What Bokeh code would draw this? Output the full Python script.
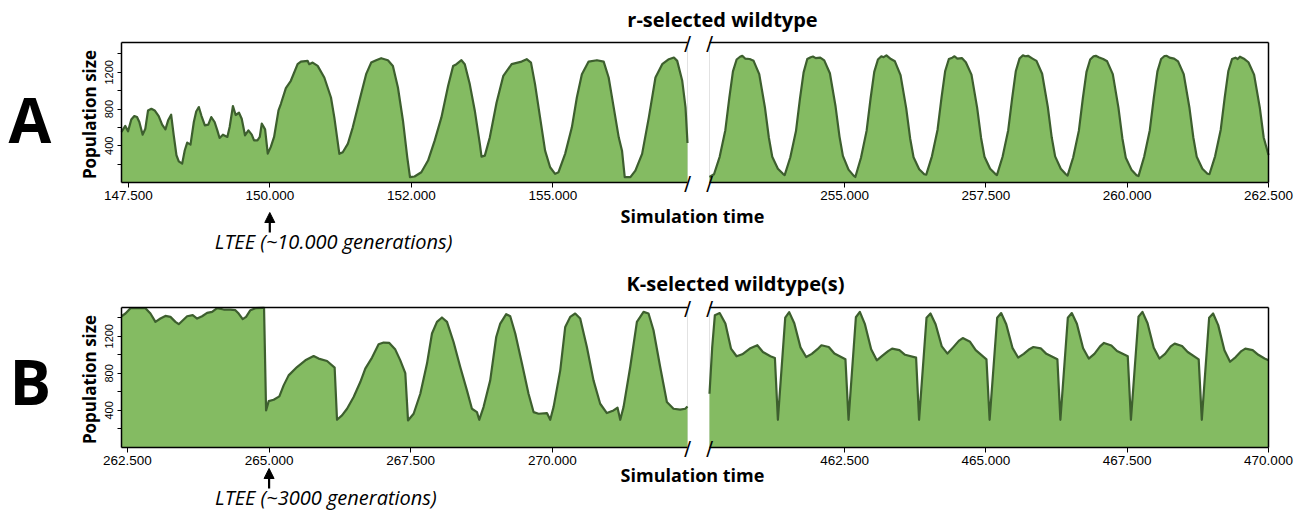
import math
from bokeh.plotting import figure
from bokeh.models import Range1d, LinearAxis, FixedTicker, Label, Arrow, NormalHead
from bokeh.embed import file_html
from bokeh.resources import INLINE

# ---------------- data ----------------
top_left_time = [147380, 147447, 147495, 147553, 147606, 147654, 147695, 147754, 147801, 147849,
                 147908, 147966, 148037, 148098, 148156, 148204, 148257, 148303, 148351, 148392,
                 148452, 148498, 148541, 148599, 148658, 148700, 148746, 148794, 148853, 148913,
                 148966, 149025, 149073, 149113, 149172, 149250, 149291, 149349, 149397, 149456,
                 149504, 149562, 149622, 149681, 149722, 149782, 149823, 149858, 149917, 149964,
                 150018, 150076, 150154, 150195, 150284, 150372, 150491, 150550, 150668, 150697,
                 150757, 150846, 150963, 151081, 151140, 151229, 151289, 151378, 151466, 151583,
                 151702, 151791, 151879, 151968, 152087, 152175, 152264, 152353, 152429, 152477,
                 152558, 152677, 152796, 152913, 153032, 153151, 153239, 153298, 153386, 153445,
                 153533, 153622, 153711, 153741, 153799, 153888, 154007, 154126, 154273, 154450,
                 154539, 154615, 154686, 154775, 154864, 154953, 155041, 155101, 155218, 155337,
                 155425, 155514, 155633, 155780, 155899, 155987, 156076, 156165, 156223, 156271,
                 156371, 156459, 156578, 156697, 156814, 156933, 157051, 157140, 157198, 157287,
                 157345, 157380]
top_left_pop = [551, 616, 557, 687, 724, 713, 659, 521, 586, 785,
                803, 785, 724, 630, 579, 677, 738, 514, 297, 231,
                206, 351, 434, 413, 659, 774, 822, 724, 622, 630,
                713, 659, 568, 485, 521, 496, 605, 833, 735, 760,
                695, 514, 568, 521, 459, 459, 496, 641, 579, 315,
                388, 496, 785, 855, 1028, 1108, 1289, 1317, 1325, 1289,
                1306, 1270, 1144, 926, 709, 312, 329, 420, 601, 890,
                1180, 1306, 1332, 1354, 1332, 1270, 1035, 673, 275, 58,
                65, 112, 239, 456, 709, 1053, 1270, 1289, 1332, 1289,
                1072, 782, 420, 282, 293, 492, 872, 1162, 1289, 1317,
                1343, 1306, 1072, 709, 347, 166, 94, 112, 312, 601,
                926, 1180, 1317, 1332, 1317, 1144, 818, 492, 347, 58,
                58, 130, 312, 709, 1144, 1289, 1343, 1361, 1325, 1108,
                818, 430]

top_right_time = [252610,
                  252690, 252790, 252890, 252960, 253025, 253090, 253150, 253190, 253240, 253320, 253390, 253490, 253590, 253660, 253720, 253820, 253910,
                  253940, 254040, 254140, 254210, 254275, 254340, 254400, 254440, 254490, 254570, 254640, 254740, 254840, 254910, 254970, 255070, 255160,
                  255190, 255290, 255390, 255460, 255525, 255590, 255650, 255690, 255740, 255820, 255890, 255990, 256090, 256160, 256220, 256320, 256410,
                  256445, 256545, 256645, 256715, 256780, 256845, 256905, 256945, 256995, 257075, 257145, 257245, 257345, 257415, 257475, 257575, 257665,
                  257695, 257795, 257895, 257965, 258030, 258095, 258155, 258195, 258245, 258325, 258395, 258495, 258595, 258665, 258725, 258825, 258915,
                  258945, 259045, 259145, 259215, 259280, 259345, 259405, 259445, 259495, 259575, 259645, 259745, 259845, 259915, 259975, 260075, 260165,
                  260200, 260300, 260400, 260470, 260535, 260600, 260660, 260700, 260750, 260830, 260900, 261000, 261100, 261170, 261230, 261330, 261420,
                  261455, 261555, 261655, 261725, 261790, 261855, 261915, 261955, 261995, 262075, 262145, 262245, 262345, 262415, 262500]
top_right_pop = [60,
                 90, 280, 570, 920, 1210, 1340, 1370, 1380, 1350, 1345, 1325, 1180, 820, 490, 280, 150, 95,
                 80, 275, 560, 910, 1200, 1345, 1365, 1372, 1355, 1360, 1330, 1190, 830, 500, 290, 140, 75,
                 60, 270, 565, 915, 1205, 1340, 1375, 1365, 1385, 1345, 1320, 1170, 810, 480, 275, 145, 90,
                 85, 285, 575, 925, 1215, 1345, 1360, 1375, 1350, 1355, 1310, 1175, 815, 485, 280, 150, 95,
                 80, 280, 570, 920, 1215, 1350, 1385, 1375, 1380, 1350, 1325, 1185, 825, 490, 285, 150, 90,
                 75, 275, 565, 915, 1205, 1340, 1375, 1380, 1365, 1345, 1320, 1180, 815, 480, 270, 140, 80,
                 70, 280, 570, 920, 1210, 1345, 1378, 1380, 1360, 1350, 1320, 1180, 820, 490, 280, 150, 95,
                 90, 285, 575, 925, 1215, 1345, 1360, 1345, 1370, 1345, 1310, 1175, 820, 490, 300]

bot_left_time = [262395, 262465, 262553, 262641, 262818, 262906, 262994, 263082, 263170, 263259,
                 263347, 263405, 263465, 263553, 263652, 263730, 263818, 263906, 263994, 264082,
                 264199, 264317, 264405, 264463, 264534, 264594, 264670, 264758, 264887, 264911,
                 264947, 264993, 265081, 265181, 265257, 265345, 265493, 265640, 265786, 265874,
                 266023, 266157, 266199, 266287, 266376, 266492, 266610, 266698, 266817, 266933,
                 267021, 267122, 267228, 267316, 267404, 267452, 267551, 267669, 267787, 267875,
                 267963, 268051, 268140, 268256, 268374, 268492, 268580, 268669, 268709, 268785,
                 268903, 269009, 269080, 269185, 269256, 269345, 269463, 269579, 269668, 269756,
                 269904, 269962, 270021, 270139, 270227, 270315, 270403, 270491, 270609, 270726,
                 270844, 270962, 271079, 271150, 271198, 271256, 271374, 271492, 271609, 271697,
                 271785, 271903, 272021, 272138, 272256, 272344, 272385]
bot_left_pop = [1416, 1445, 1503, 1503, 1503, 1445, 1355, 1391, 1419, 1409,
                1355, 1330, 1365, 1416, 1427, 1391, 1416, 1452, 1463, 1503,
                1488, 1488, 1481, 1445, 1384, 1409, 1481, 1503, 1506, 1506,
                400, 500, 515, 551, 670, 778, 868, 940, 987, 959,
                933, 861, 299, 346, 418, 544, 706, 851, 970, 1113,
                1132, 1128, 1056, 940, 803, 292, 364, 580, 905, 1229,
                1355, 1402, 1355, 1138, 868, 616, 418, 382, 299, 436,
                724, 1192, 1337, 1438, 1416, 1229, 905, 580, 382, 364,
                371, 299, 436, 832, 1300, 1409, 1445, 1391, 1084, 724,
                472, 371, 400, 429, 299, 436, 868, 1355, 1463, 1445,
                1265, 868, 490, 418, 408, 418, 443]

bot_right_time = [460110, 460158, 460205, 460290, 460391, 460490, 460589, 460690, 460823, 460956, 461055, 461188, 461267, 461320,
                  461450, 461520, 461610, 461720, 461820, 461920, 462020, 462090, 462220, 462320, 462515, 462570,
                  462700, 462770, 462860, 462970, 463070, 463170, 463270, 463340, 463470, 463570, 463765, 463818,
                  463950, 464020, 464110, 464220, 464320, 464420, 464520, 464590, 464720, 464820, 465010, 465066,
                  465200, 465270, 465360, 465470, 465570, 465670, 465770, 465840, 465970, 466070, 466265, 466318,
                  466450, 466520, 466610, 466720, 466820, 466920, 467020, 467090, 467220, 467320, 467510, 467566,
                  467700, 467770, 467860, 467970, 468070, 468170, 468270, 468340, 468470, 468570, 468765, 468820,
                  468950, 469020, 469110, 469220, 469320, 469420, 469520, 469590, 469720, 469820, 469930, 470000]
bot_right_pop = [580, 1084, 1427, 1450, 1337, 1067, 984, 1005, 1067, 1103, 1030, 984, 965, 299,
                 1400, 1460, 1340, 1080, 976, 1010, 1060, 1103, 1084, 1013, 951, 299,
                 1405, 1463, 1330, 1060, 940, 990, 1040, 1067, 1050, 1000, 970, 299,
                 1400, 1445, 1330, 1090, 1013, 1080, 1150, 1180, 1140, 1050, 951, 299,
                 1400, 1450, 1330, 1075, 970, 1010, 1060, 1084, 1070, 1010, 951, 299,
                 1400, 1450, 1335, 1070, 959, 1010, 1090, 1128, 1100, 1040, 984, 299,
                 1410, 1463, 1340, 1075, 960, 1010, 1090, 1120, 1095, 1030, 951, 299,
                 1400, 1445, 1320, 1050, 925, 975, 1040, 1067, 1050, 1000, 960, 940]

top_left_ticks = [147500, 150000, 152500, 155000]
top_left_labels = ["147.500", "150.000", "152.000", "155.000"]
top_right_ticks = [255000, 257500, 260000, 262500]
top_right_labels = ["255.000", "257.500", "260.000", "262.500"]
bot_left_ticks = [262500, 265000, 267500, 270000]
bot_left_labels = ["262.500", "265.000", "267.500", "270.000"]
bot_right_ticks = [462500, 465000, 467500, 470000]
bot_right_labels = ["462.500", "465.000", "467.500", "470.000"]
y_ticks = [400, 800, 1200]
y_minor_ticks = [200, 600, 1000, 1400]

ltee_A = 150000
ltee_B = 265000

# ---------------- layout (pixel anchors of the picture) ----------------
W, H = 1300, 511
FRAME_L, BREAK_L, BREAK_R, FRAME_R = 121, 687, 709, 1268
FILL = "#84bb62"
EDGE = "#3d5f2e"

p = figure(width=W, height=H, output_backend="svg", toolbar_location=None,
           x_range=Range1d(0, W), y_range=Range1d(H, 0),
           x_axis_type=None, y_axis_type=None, min_border=0)
p.min_border_left = p.min_border_right = p.min_border_top = p.min_border_bottom = 0
p.outline_line_color = None
p.background_fill_color = "white"
p.border_fill_color = "white"


def x_range_for(t0, t1, px0, px1):
    s = (px1 - px0) / (t1 - t0)
    start = t0 - px0 / s
    return Range1d(start, start + W / s)


def y_range_for(y_end, top_px, bottom_px):
    s = (bottom_px - top_px) / y_end
    return Range1d(-(H - bottom_px) / s, y_end + top_px / s)


def xaxis_style(ax):
    ax.axis_line_color = "black"
    ax.axis_line_width = 1.5
    ax.major_tick_line_color = "black"
    ax.major_tick_line_width = 1
    ax.major_tick_out = 5
    ax.major_tick_in = 0
    ax.minor_tick_line_color = None
    ax.major_label_text_font = "Liberation Sans"
    ax.major_label_text_font_size = "13.5px"
    ax.major_label_text_color = "black"
    ax.major_label_standoff = 3


def border_axis(ax):
    ax.axis_line_color = "black"
    ax.axis_line_width = 1.5
    ax.major_tick_line_color = None
    ax.minor_tick_line_color = None
    ax.major_label_text_font_size = "0px"


def text(x, y, s, size, style="bold", align="left", angle=0.0, font="Open Sans", **kw):
    p.add_layout(Label(x=x, y=y, text=s, text_font=font, text_font_style=style,
                       text_font_size=size, text_align=align, text_baseline="middle",
                       text_color="black", angle=angle, **kw))


def panel(key, top_px, bottom_px, y_end, segL, segR, tl, nl, tr, nr,
          ticksL, labsL, ticksR, labsR):
    yn, xl, xr_ = "y" + key, "xl" + key, "xr" + key
    p.extra_y_ranges[yn] = y_range_for(y_end, top_px, bottom_px)
    p.extra_x_ranges[xl] = x_range_for(segL[0], segL[1], FRAME_L, BREAK_L)
    p.extra_x_ranges[xr_] = x_range_for(segR[0], segR[1], BREAK_R, FRAME_R)

    # faint gap edges
    p.segment(x0=segL[1], y0=0, x1=segL[1], y1=y_end, line_color="#e2e2e2", line_width=1,
              x_range_name=xl, y_range_name=yn)
    p.segment(x0=segR[0], y0=0, x1=segR[0], y1=y_end, line_color="#e2e2e2", line_width=1,
              x_range_name=xr_, y_range_name=yn)

    # areas + outlines
    p.varea(x=tl, y1=0, y2=nl, fill_color=FILL, x_range_name=xl, y_range_name=yn)
    p.line(x=tl, y=nl, line_color=EDGE, line_width=2.2, line_join="round",
           x_range_name=xl, y_range_name=yn)
    p.varea(x=tr, y1=0, y2=nr, fill_color=FILL, x_range_name=xr_, y_range_name=yn)
    p.line(x=tr, y=nr, line_color=EDGE, line_width=2.2, line_join="round",
           x_range_name=xr_, y_range_name=yn)

    # bottom axes + top borders
    for xname, seg, ticks, labs in ((xl, segL, ticksL, labsL), (xr_, segR, ticksR, labsR)):
        ax = LinearAxis(x_range_name=xname, y_range_name=yn, ticker=FixedTicker(ticks=ticks),
                        major_label_overrides={t: s for t, s in zip(ticks, labs)},
                        bounds=seg, fixed_location=0)
        xaxis_style(ax)
        p.add_layout(ax, "below")
        at = LinearAxis(x_range_name=xname, y_range_name=yn, ticker=FixedTicker(ticks=[]),
                        bounds=seg, fixed_location=y_end)
        border_axis(at)
        p.add_layout(at, "above")

    # left axis
    ay = LinearAxis(x_range_name=xl, y_range_name=yn,
                    ticker=FixedTicker(ticks=y_ticks, minor_ticks=y_minor_ticks),
                    bounds=(0, y_end), fixed_location=segL[0])
    ay.axis_line_color = "black"
    ay.axis_line_width = 1.5
    ay.major_tick_line_color = "black"
    ay.minor_tick_line_color = "black"
    ay.major_tick_out = 4
    ay.major_tick_in = 0
    ay.minor_tick_out = 4
    ay.minor_tick_in = 0
    ay.major_label_orientation = "vertical"
    ay.major_label_text_font = "Liberation Sans"
    ay.major_label_text_font_size = "11px"
    ay.major_label_text_color = "black"
    ay.major_label_standoff = 4
    p.add_layout(ay, "left")
    # right border
    ar = LinearAxis(x_range_name=xr_, y_range_name=yn, ticker=FixedTicker(ticks=[]),
                    bounds=(0, y_end), fixed_location=segR[1])
    border_axis(ar)
    p.add_layout(ar, "right")

    # break marks
    for yy in (0, y_end):
        text(segL[1], yy, "/", "20px", style="normal", align="center",
             font="DejaVu Sans", x_range_name=xl, y_range_name=yn)
        text(segR[0], yy, "/", "20px", style="normal", align="center",
             font="DejaVu Sans", x_range_name=xr_, y_range_name=yn)


panel("A", 42, 182, 1525, (147380, 157380), (252610, 262500),
      top_left_time, top_left_pop, top_right_time, top_right_pop,
      top_left_ticks, top_left_labels, top_right_ticks, top_right_labels)
panel("B", 307, 447, 1510, (262395, 272385), (460110, 470000),
      bot_left_time, bot_left_pop, bot_right_time, bot_right_pop,
      bot_left_ticks, bot_left_labels, bot_right_ticks, bot_right_labels)

# ---------------- texts (y = visual centre) ----------------
text(8, 118, "A", "62px")
text(9, 380, "B", "62px")
text(722, 19, "r-selected wildtype", "20px", align="center")
text(735, 283, "K-selected wildtype(s)", "20px", align="center")
text(89, 114, "Population size", "17px", align="center", angle=math.pi / 2)
text(89, 379, "Population size", "17px", align="center", angle=math.pi / 2)
text(692, 215, "Simulation time", "18px", align="center")
text(692, 474, "Simulation time", "18px", align="center")

# LTEE markers
text(ltee_A, 241, "LTEE (~10.000 generations)", "20px", style="italic", x_offset=-55,
     x_range_name="xlA")
text(ltee_B, 497, "LTEE (~3000 generations)", "20px", style="italic", x_offset=-54,
     x_range_name="xlB")
p.add_layout(Arrow(x_start=ltee_A, x_end=ltee_A, y_start=232, y_end=212, x_range_name="xlA",
                   line_color="black", line_width=2.2,
                   end=NormalHead(size=10, fill_color="black", line_color="black")))
p.add_layout(Arrow(x_start=ltee_B, x_end=ltee_B, y_start=488, y_end=468, x_range_name="xlB",
                   line_color="black", line_width=2.2,
                   end=NormalHead(size=10, fill_color="black", line_color="black")))

open("out.html", "w").write(file_html(p, INLINE))
